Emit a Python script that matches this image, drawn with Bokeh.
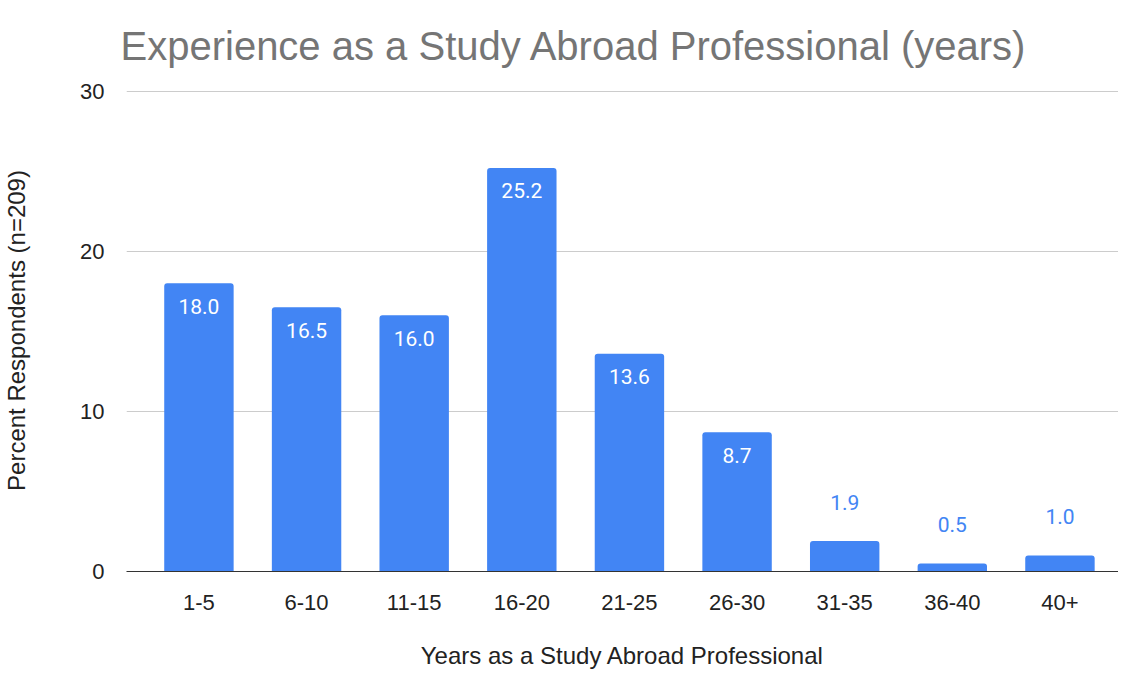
from bokeh.plotting import figure
from bokeh.models import ColumnDataSource, FixedTicker, Range1d
from bokeh.core.properties import value
from bokeh.embed import file_html
from bokeh.resources import INLINE

categories = ["1-5", "6-10", "11-15", "16-20", "21-25", "26-30", "31-35", "36-40", "40+"]
percents = [18.0, 16.5, 16.0, 25.2, 13.6, 8.7, 1.9, 0.5, 1.0]
y_ticks = [0, 10, 20, 30]

title_text = "Experience as a Study Abroad Professional (years)"
x_label = "Years as a Study Abroad Professional"
y_label = "Percent Respondents (n=209)"

BLUE = "#4285F4"

xs = list(range(len(categories)))
labels = [f"{v:.1f}" for v in percents]
inside = [v > 5 for v in percents]

src = ColumnDataSource(dict(x=xs, top=percents, label=labels))
src_in = ColumnDataSource(dict(
    x=[x for x, f in zip(xs, inside) if f],
    y=[v for v, f in zip(percents, inside) if f],
    label=[l for l, f in zip(labels, inside) if f]))
src_out = ColumnDataSource(dict(
    x=[x for x, f in zip(xs, inside) if not f],
    y=[v for v, f in zip(percents, inside) if not f],
    label=[l for l, f in zip(labels, inside) if not f]))

p = figure(width=1118, height=671, output_backend="svg", toolbar_location=None,
           x_range=Range1d(-0.673, 8.544), y_range=Range1d(0, 30.1),
           min_border_left=118, min_border_right=0, min_border_top=89,
           min_border_bottom=100)

p.vbar(x="x", top="top", bottom=0, width=0.645, source=src,
       fill_color=BLUE, line_color=None, border_radius=(3, 3, 0, 0))

p.text(x="x", y="y", text="label", source=src_in, text_color="white",
       text_font=value("Roboto"), text_font_size="21px", text_align="center",
       text_baseline="middle", y_offset=23)
p.text(x="x", y="y", text="label", source=src_out, text_color=BLUE,
       text_font=value("Roboto"), text_font_size="21px", text_align="center",
       text_baseline="middle", y_offset=-39)

p.title.text = title_text
p.title.text_font = "Liberation Sans"
p.title.text_font_size = "40px"
p.title.text_font_style = "normal"
p.title.text_color = "#757575"
p.title.offset = -6
p.title.standoff = 39
p.title.vertical_align = "top"

p.outline_line_color = None
p.background_fill_color = "white"
p.border_fill_color = "white"

p.xgrid.grid_line_color = None
p.ygrid.grid_line_color = "#cccccc"
p.ygrid.grid_line_width = 1
p.ygrid.ticker = FixedTicker(ticks=y_ticks)

p.xaxis.ticker = FixedTicker(ticks=xs)
p.xaxis.major_label_overrides = {i: c for i, c in zip(xs, categories)}
p.xaxis.axis_line_color = "#333333"
p.xaxis.major_tick_line_color = None
p.xaxis.minor_tick_line_color = None
p.xaxis.major_label_standoff = 17
p.xaxis.major_label_text_font = "Liberation Sans"
p.xaxis.major_label_text_font_size = "22px"
p.xaxis.major_label_text_color = "#222222"
p.xaxis.axis_label = x_label
p.xaxis.axis_label_text_font = "Liberation Sans"
p.xaxis.axis_label_text_font_size = "24px"
p.xaxis.axis_label_text_font_style = "normal"
p.xaxis.axis_label_text_color = "#222222"
p.xaxis.axis_label_standoff = 29

p.yaxis.ticker = FixedTicker(ticks=y_ticks)
p.yaxis.axis_line_color = None
p.yaxis.major_tick_line_color = None
p.yaxis.minor_tick_line_color = None
p.yaxis.major_label_standoff = 16
p.yaxis.major_label_text_font = "Liberation Sans"
p.yaxis.major_label_text_font_size = "22px"
p.yaxis.major_label_text_color = "#222222"
p.yaxis.axis_label = y_label
p.yaxis.axis_label_text_font = "Liberation Sans"
p.yaxis.axis_label_text_font_size = "24px"
p.yaxis.axis_label_text_font_style = "normal"
p.yaxis.axis_label_text_color = "#222222"
p.yaxis.axis_label_standoff = 47

open("out.html", "w").write(file_html(p, INLINE))
